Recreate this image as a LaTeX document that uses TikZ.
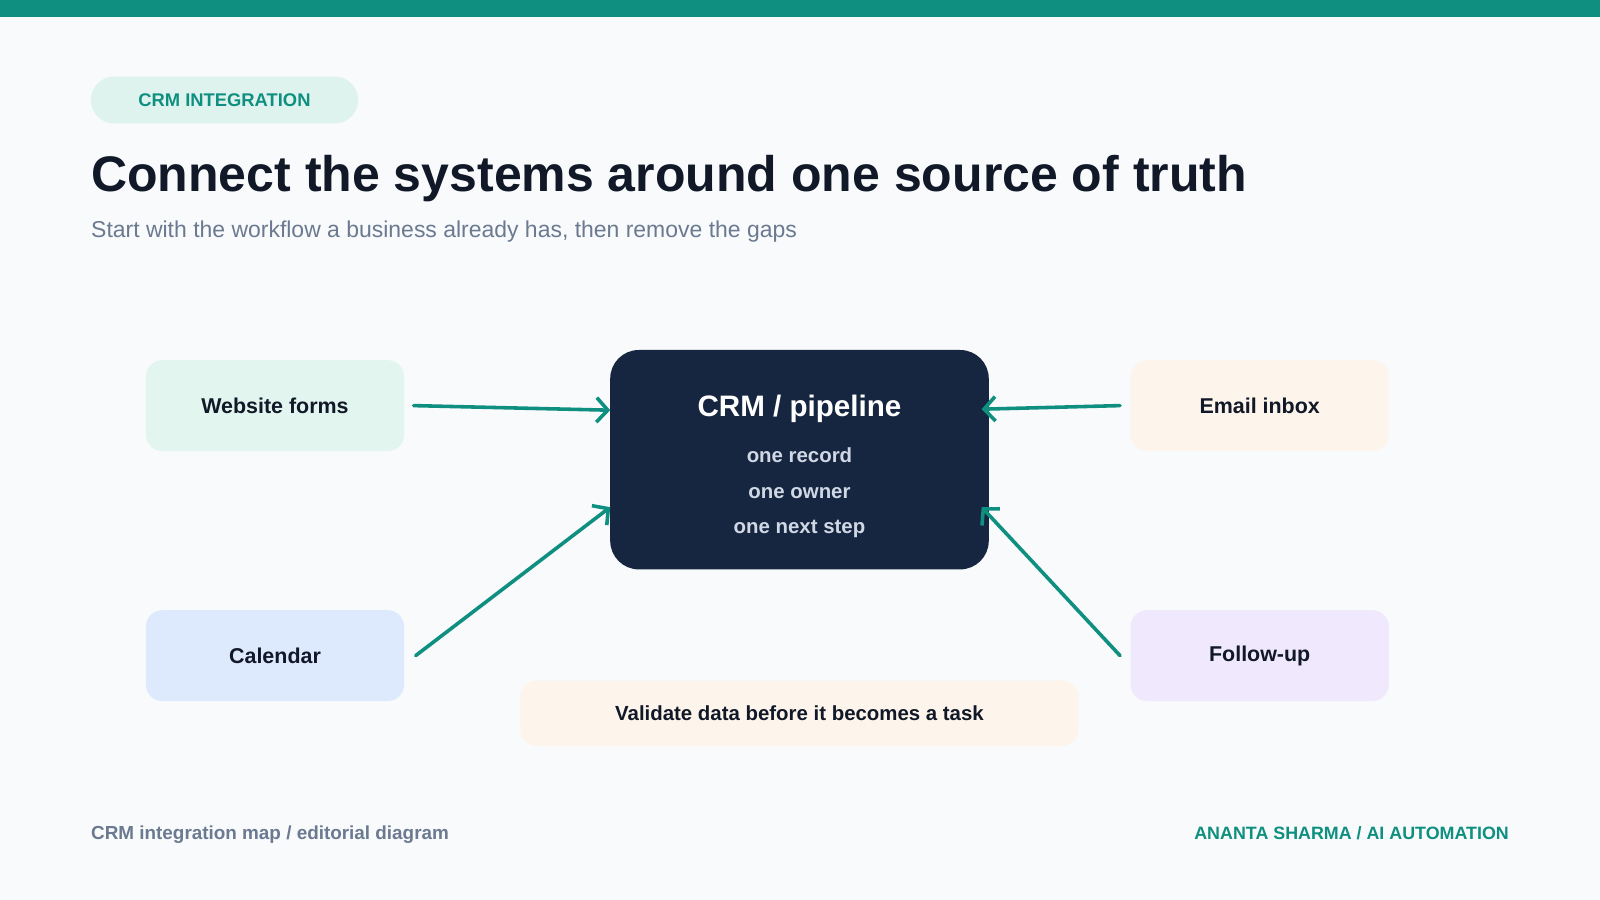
\documentclass[tikz,border=0pt]{standalone}
\usepackage{fontspec}
\setmainfont{Liberation Sans}
\usetikzlibrary{arrows.meta}
\definecolor{teal}{HTML}{0F8F80}
\definecolor{ink}{HTML}{111827}
\definecolor{navy}{HTML}{172640}
\definecolor{slate}{HTML}{6B7A90}
\definecolor{bg}{HTML}{F8FAFC}
\tikzset{every picture/.style={line width=0.75pt}}
\tikzset{
  srcbox/.style={rounded corners=16pt, minimum width=253pt, minimum height=89pt, inner sep=0pt, font=\fontsize{21}{25}\selectfont\bfseries, text=ink},
  flow/.style={color=teal, line width=3.5pt, line cap=round, -{Straight Barb[length=11pt,width=24pt,line width=3.5pt]}}
}
\begin{document}
\begin{tikzpicture}[x=1pt,y=1pt,yscale=-1]
\fill[bg] (0,0) rectangle (1568,882);
\useasboundingbox (0,0) rectangle (1568,882);
\fill[teal] (0,0) rectangle (1568,17);

% header
\node (pill) [fill={rgb,255:red,222;green,243;blue,238}, rounded corners=23pt, minimum width=262pt, minimum height=46pt, text=teal, font=\fontsize{18}{22}\selectfont\bfseries] at (220,98) {CRM INTEGRATION};
\node (title) [anchor=base west, inner sep=0pt, text=ink, font=\fontsize{49}{58}\selectfont\bfseries] at (89,188) {Connect the systems around one source of truth};
\node (subtitle) [anchor=base west, inner sep=0pt, text=slate, font=\fontsize{22.5}{27}\selectfont] at (89,233) {Start with the workflow a business already has, then remove the gaps};

% systems
\node (web) [srcbox, fill={rgb,255:red,227;green,245;blue,239}] at (269.5,397.5) {Website forms};
\node (cal) [srcbox, fill={rgb,255:red,221;green,233;blue,253}] at (269.5,642.5) {Calendar};
\node (mail) [srcbox, fill={rgb,255:red,253;green,244;blue,236}] at (1234.5,397.5) {Email inbox};
\node (follow) [srcbox, fill={rgb,255:red,240;green,232;blue,253}] at (1234.5,642.5) {Follow-up};
\node (crm) [fill=navy, rounded corners=28pt, minimum width=371pt, minimum height=215pt] at (783.5,450.5) {};
\node (crmtitle) [text=white, font=\fontsize{29}{34}\selectfont\bfseries] at (783.5,401) {CRM / pipeline};
\node (crmtext) [text={rgb,255:red,208;green,216;blue,230}, align=center, font=\fontsize{20}{34.5}\selectfont\bfseries] at (783.5,483) {one record\\one owner\\one next step};
\node (check) [fill={rgb,255:red,253;green,244;blue,236}, rounded corners=16pt, minimum width=547pt, minimum height=64pt, text=ink, font=\fontsize{20}{24}\selectfont\bfseries] at (783.5,699) {Validate data before it becomes a task};

% connectors
\coordinate (webin) at (598,402);
\coordinate (calin) at (598,497);
\coordinate (mailin) at (962,401);
\coordinate (followin) at (962,497);
\draw[flow] (web.east) ++(9,0) coordinate (webout) (webout) -- (webin);
\draw[flow] (cal.east) ++(11,0) coordinate (calout) (calout) -- (calin);
\draw[flow] (mail.west) ++(-10,0) coordinate (mailout) (mailout) -- (mailin);
\draw[flow] (follow.west) ++(-10,0) coordinate (followout) (followout) -- (followin);

% footer
\node (footl) [anchor=base west, inner sep=0pt, text=slate, font=\fontsize{18.5}{22}\selectfont\bfseries] at (89,823) {CRM integration map / editorial diagram};
\node (footr) [anchor=base east, inner sep=0pt, text=teal, font=\fontsize{17.5}{22}\selectfont\bfseries] at (1479,823) {ANANTA SHARMA / AI AUTOMATION};
\end{tikzpicture}
\end{document}
